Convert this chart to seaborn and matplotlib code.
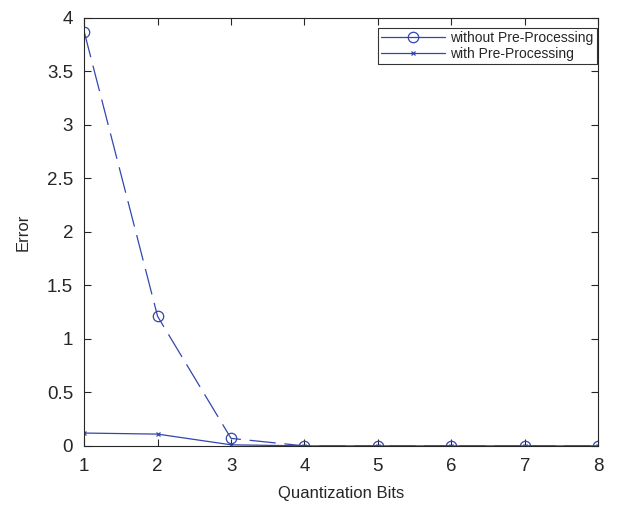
import numpy as np
import pandas as pd
import matplotlib
matplotlib.use("Agg")
import matplotlib.pyplot as plt
import seaborn as sns
from matplotlib.lines import Line2D

# Data
bits = [1, 2, 3, 4, 5, 6, 7, 8]
err_without = [3.87, 1.21, 0.07, 0.0, 0.0, 0.0, 0.0, 0.0]
err_with = [0.12, 0.11, 0.01, 0.0, 0.0, 0.0, 0.0, 0.0]
ytick_labels = ["0", "0.5", "1", "1.5", "2", "2.5", "3", "3.5", "4"]

sns.set_style("ticks")
plt.rcParams["font.family"] = ["Liberation Sans", "DejaVu Sans"]

color = "#3346ad"

df = pd.DataFrame({"bits": bits, "without": err_without, "with": err_with})

fig = plt.figure(figsize=(6.33, 5.09), dpi=100)
ax = fig.add_axes([0.133, 0.124, 0.812, 0.841])

sns.lineplot(data=df, x="bits", y="without", ax=ax, color=color, lw=0.9,
             marker="o", markersize=7.5, markerfacecolor="none",
             markeredgecolor=color, markeredgewidth=0.9)
ax.lines[-1].set_dashes([21, 7])
sns.lineplot(data=df, x="bits", y="with", ax=ax, color=color, lw=0.9,
             marker="x", markersize=3.5, markeredgecolor=color,
             markeredgewidth=0.9)

ax.set_xlim(1, 8)
ax.set_ylim(0, 4)
ax.set_xticks(bits)
ax.set_yticks(np.arange(0, 4.01, 0.5))
ax.set_yticklabels(ytick_labels)
ax.tick_params(direction="in", top=True, right=True, labelsize=13.5, length=5,
               width=0.8)
ax.tick_params(axis="x", pad=9)
ax.tick_params(axis="y", pad=8)
for s in ax.spines.values():
    s.set_visible(True)
    s.set_linewidth(0.8)
ax.set_xlabel("Quantization Bits", fontsize=12, labelpad=8)
ax.set_ylabel("Error", fontsize=12, labelpad=12)

handles = [
    Line2D([], [], color=color, lw=0.9, marker="o", markersize=7.5,
           markerfacecolor="none", markeredgewidth=0.9),
    Line2D([], [], color=color, lw=0.9, marker="x", markersize=3.5,
           markeredgewidth=0.9),
]
leg = ax.legend(handles, ["without Pre-Processing", "with Pre-Processing"],
                loc="upper right", bbox_to_anchor=(0.998, 0.977),
                fontsize=10, frameon=True, fancybox=False,
                edgecolor="black", handlelength=4.6, handletextpad=0.4,
                borderaxespad=0, borderpad=0.25, labelspacing=0.12)
leg.get_frame().set_linewidth(0.8)

fig.savefig("out.png", dpi=100)
